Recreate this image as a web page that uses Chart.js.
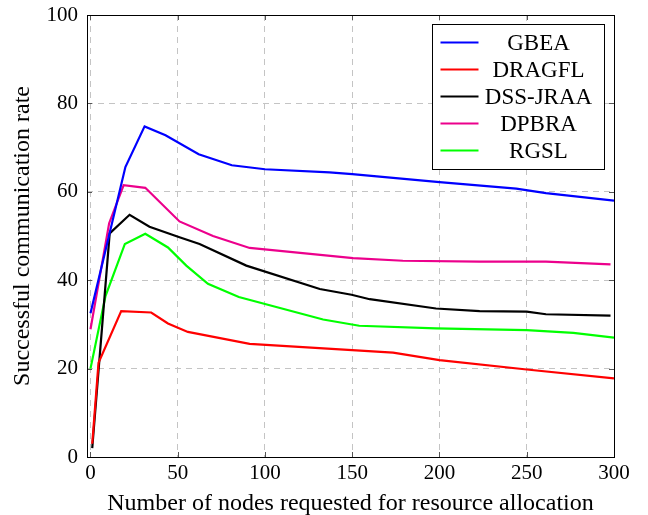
<!DOCTYPE html>
<html>
<head>
<meta charset="utf-8">
<script src="https://cdn.jsdelivr.net/npm/chart.js@4"></script>
<style>
  html, body { margin: 0; padding: 0; background: #fff; }
  #wrap { width: 648px; height: 515px; }
</style>
</head>
<body>
<div id="wrap"><canvas id="rateChart" width="648" height="515"></canvas></div>
<script>
// Taux de communication réussie selon le nombre de nœuds demandés
const xTicks = [0, 50, 100, 150, 200, 250, 300];
const yTicks = [0, 20, 40, 60, 80, 100];

const gbeaX = [0, 20, 31, 43, 62, 81, 100, 137, 150, 200, 244, 261, 300];
const gbeaY = [32.5, 65.6, 74.8, 72.8, 68.5, 66, 65.1, 64.4, 64.0, 62.2, 60.7, 59.7, 58];

const dragflX = [1, 4.6, 17.6, 34.8, 44.4, 55.8, 91.2, 173.4, 200, 250, 300];
const dragflY = [3, 21.3, 33, 32.7, 30.2, 28.3, 25.6, 23.6, 21.9, 19.8, 17.8];

const dssX = [1, 11, 22.4, 33.8, 51, 62.5, 89.3, 131.4, 149.6, 160, 198, 223, 250, 261, 298];
const dssY = [2, 50.6, 54.8, 52.1, 49.7, 48.2, 43.3, 38, 36.7, 35.7, 33.6, 33, 32.9, 32.3, 32];

const dpbraX = [0, 10.7, 19, 31.4, 51, 70.2, 91.2, 150.5, 179, 223, 261, 298];
const dpbraY = [28.9, 52.9, 61.5, 60.9, 53.3, 50, 47.3, 45, 44.4, 44.2, 44.2, 43.6];

const rgslX = [0, 8.6, 19.7, 31.4, 44.4, 54.9, 67.3, 85, 133.3, 154, 198, 250, 276.7, 300];
const rgslY = [20, 36.4, 48.2, 50.5, 47.4, 43.3, 39.2, 36.2, 31.1, 29.7, 29.1, 28.7, 28.1, 27];

const seriesNames = ['GBEA', 'DRAGFL', 'DSS-JRAA', 'DPBRA', 'RGSL'];
const seriesColors = ['#0000ff', '#ff0000', '#000000', '#ec008c', '#00ff00'];

const FONT = '"Liberation Serif", "DejaVu Serif", serif';

function puntos(xs, ys) {
    return xs.map((x, i) => ({ x: x, y: ys[i] }));
}

const allSeries = [
    puntos(gbeaX, gbeaY),
    puntos(dragflX, dragflY),
    puntos(dssX, dssY),
    puntos(dpbraX, dpbraY),
    puntos(rgslX, rgslY)
];

// marco, marcas de graduación y leyenda dentro del área
const marcoPlugin = {
    id: 'marco',
    afterDraw(chart) {
        const ctx = chart.ctx;
        const a = chart.chartArea;
        const sx = chart.scales.x, sy = chart.scales.y;
        ctx.save();
        ctx.strokeStyle = '#555';
        ctx.lineWidth = 1;
        ctx.beginPath();
        xTicks.forEach(v => {
            const px = Math.round(sx.getPixelForValue(v)) + 0.5;
            ctx.moveTo(px, a.bottom); ctx.lineTo(px, a.bottom - 5);
            ctx.moveTo(px, a.top); ctx.lineTo(px, a.top + 5);
        });
        yTicks.forEach(v => {
            const py = Math.round(sy.getPixelForValue(v)) + 0.5;
            ctx.moveTo(a.left, py); ctx.lineTo(a.left + 5, py);
            ctx.moveTo(a.right, py); ctx.lineTo(a.right - 5, py);
        });
        ctx.stroke();

        ctx.strokeStyle = '#000';
        ctx.strokeRect(Math.round(a.left) + 0.5, Math.round(a.top) + 0.5,
            Math.round(a.right - a.left), Math.round(a.bottom - a.top));

        // leyenda
        const bw = 172, rowH = 27;
        const bh = rowH * chart.data.datasets.length + 10;
        const bx = Math.round(a.right - 10 - bw) + 0.5;
        const by = Math.round(a.top + 9) + 0.5;
        ctx.fillStyle = '#fff';
        ctx.fillRect(bx, by, bw, bh);
        ctx.strokeStyle = '#000';
        ctx.strokeRect(bx, by, bw, bh);
        ctx.font = '23px ' + FONT;
        ctx.textAlign = 'center';
        ctx.textBaseline = 'middle';
        chart.data.datasets.forEach((ds, i) => {
            const cy = by + 18 + i * rowH;
            ctx.strokeStyle = ds.borderColor;
            ctx.lineWidth = 2.2;
            ctx.beginPath();
            ctx.moveTo(bx + 8, cy);
            ctx.lineTo(bx + 46, cy);
            ctx.stroke();
            ctx.fillStyle = '#000';
            ctx.fillText(ds.label, bx + 106, cy + 1);
        });
        ctx.restore();
    }
};

const ctxRate = document.getElementById('rateChart').getContext('2d');
const rateChart = new Chart(ctxRate, {
    type: 'line',
    data: {
        datasets: allSeries.map((pts, i) => ({
            label: seriesNames[i],
            data: pts,
            borderColor: seriesColors[i],
            backgroundColor: seriesColors[i],
            borderWidth: 2.2,
            pointRadius: 0,
            tension: 0,
            fill: false
        }))
    },
    options: {
        responsive: false,
        animation: false,
        events: [],
        layout: { padding: { left: 0, top: 15, right: 34, bottom: -3 } },
        plugins: {
            legend: { display: false },
            tooltip: { enabled: false }
        },
        scales: {
            x: {
                type: 'linear',
                min: -2,
                max: 300,
                afterBuildTicks: s => { s.ticks = xTicks.map(v => ({ value: v })); },
                afterFit: s => { s.height = 61; s.paddingLeft = 0; s.paddingRight = 0; },
                grid: { color: '#c4c4c4', lineWidth: 1, drawTicks: false },
                border: { display: false, dash: [6, 5] },
                ticks: { color: '#000', font: { family: FONT, size: 21 }, padding: 4, maxRotation: 0 },
                title: {
                    display: true,
                    text: 'Number of nodes requested for resource allocation',
                    color: '#000',
                    font: { family: FONT, size: 24 },
                    padding: { top: 0, bottom: 0 }
                }
            },
            y: {
                min: 0,
                max: 100,
                afterBuildTicks: s => { s.ticks = yTicks.map(v => ({ value: v })); },
                afterFit: s => { s.width = 87; s.paddingTop = 0; s.paddingBottom = 0; },
                grid: { color: '#c4c4c4', lineWidth: 1, drawTicks: false },
                border: { display: false, dash: [6, 5] },
                ticks: { color: '#000', font: { family: FONT, size: 21 }, padding: 9 },
                title: {
                    display: true,
                    text: 'Successful communication rate',
                    color: '#000',
                    font: { family: FONT, size: 24 },
                    padding: { top: 8, bottom: 0 }
                }
            }
        }
    },
    plugins: [marcoPlugin]
});
</script>
</body>
</html>
